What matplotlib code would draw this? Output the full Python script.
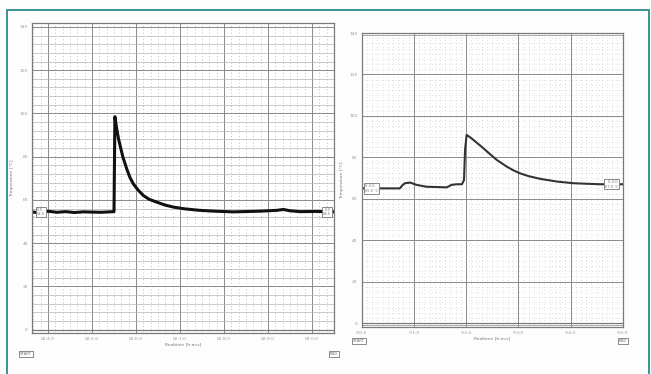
import numpy as np
import matplotlib
matplotlib.use("Agg")
from matplotlib import pyplot as plt
from matplotlib.patches import Rectangle

# left recording: minutes after first tick, temperature
left_t = [-3.6, -2.0, 0.0, 2.0, 4.0, 6.0, 8.0, 10.0, 12.0, 14.0, 15.0, 15.2,
          15.6, 16.0, 16.4, 17.0, 17.9, 18.6, 19.4, 20.5, 21.7, 23.0, 24.7,
          26.5, 28.5, 31.0, 34.5, 38.0, 42.1, 48.0, 52.0, 53.5, 55.0, 57.3,
          61.0, 65.0]
left_v = [54.5, 54.0, 54.8, 54.3, 54.6, 54.2, 54.5, 54.4, 54.3, 54.5, 54.6, 98.5,
          93.0, 88.5, 85.0, 80.0, 74.3, 70.5, 67.4, 64.5, 62.0, 60.3, 59.0,
          57.7, 56.7, 55.9, 55.2, 54.8, 54.5, 54.8, 55.2, 55.6, 55.0, 54.6,
          54.7, 54.5]
left_ticks = [0, 10, 20, 30, 40, 50, 60]
left_labels = ["02:4:0", "02:5:0", "02:6:0", "02:7:0", "02:8:0", "02:9:0", "03:0:0"]

# right recording
right_t = [0.0, 4.8, 7.3, 7.8, 8.3, 9.3, 10.5, 12.4, 16.3, 17.2, 18.2, 19.2,
           19.6, 19.8, 20.1, 20.7, 21.4, 22.3, 23.3, 24.5, 25.9, 27.8, 29.0,
           30.3, 32.0, 34.2, 37.4, 40.5, 45.6, 50.0]
right_v = [65.0, 65.0, 65.0, 66.5, 67.5, 67.8, 66.7, 65.8, 65.5, 66.7, 67.0, 67.0,
           69.0, 83.6, 90.8, 89.8, 88.4, 86.5, 84.4, 81.7, 78.7, 75.5, 73.8,
           72.3, 70.9, 69.6, 68.3, 67.5, 67.0, 67.0]
right_ticks = [0, 10, 20, 30, 40, 50]
right_labels = ["9:0:0", "9:1:0", "9:2:0", "9:3:0", "9:4:0", "9:5:0"]

y_ticks = [0, 20, 40, 60, 80, 100, 120, 140]

W, H = 651, 374
fig = plt.figure(figsize=(W / 100, H / 100), dpi=100, facecolor="#fdfdfd")

# teal frame
fig.patches.append(Rectangle((7 / W, -0.05), 642 / W, 1.05 - 10 / H,
                             transform=fig.transFigure, fill=False,
                             edgecolor="#2a8a8c", linewidth=1.3))

tc = "#999999"
fs = 3.2


def grid_axes(ax, xt, minor_x, minor_y, xlabels):
    ax.set_facecolor("white")
    ax.set_xticks(xt)
    ax.set_xticklabels(xlabels)
    ax.set_yticks(y_ticks)
    ax.set_yticklabels([str(v) for v in y_ticks])
    ax.set_xticks(minor_x, minor=True)
    ax.set_yticks(minor_y, minor=True)
    ax.tick_params(which="both", length=0, labelsize=fs, colors=tc, pad=3)
    ax.grid(True, which="major", color="#8a8a8a", linewidth=0.7)
    for s in ax.spines.values():
        s.set_color("#7a7a7a")
        s.set_linewidth(0.9)
    ax.axhline(0, color="#7a7a7a", lw=0.9)


# left chart
ax1 = fig.add_axes([32 / W, 1 - 333 / H, 302 / W, 310 / H])
ax1.plot(left_t, left_v, color="#111111", lw=2.2, solid_joinstyle="round")
ax1.set_xlim(-3.64, 65.0)
ax1.set_ylim(-1.5, 141.8)
grid_axes(ax1, left_ticks, np.arange(-10 / 6 * 2, 65, 10 / 6), np.arange(0, 141, 4),
          left_labels)
ax1.grid(True, which="minor", axis="y", color="#b5b5b5", linewidth=0.5)
ax1.grid(True, which="minor", axis="x", color="#a8a8a8", linewidth=0.6,
         linestyle=(0, (1, 3)))
ax1.set_xlabel("Realtime [h:m:s]", fontsize=fs, color="#777777", labelpad=1)
ax1.set_ylabel("Temperature [°C]", fontsize=fs, color="#777777", labelpad=4)
box = dict(boxstyle="square,pad=0.25", fc="white", ec="#777777", lw=0.6)
ax1.text(-2.5, 54.5, "0:0\n54.5", fontsize=2.6, color="#777777", va="center",
         ha="left", bbox=box)
ax1.text(64.3, 54.5, "0:0\n54.5", fontsize=2.6, color="#777777", va="center",
         ha="right", bbox=box)
ax1.text(-0.02, -0.06, "START", transform=ax1.transAxes, fontsize=2.8,
         color="#777777", ha="center", va="top", bbox=box)
ax1.text(1.0, -0.06, "END", transform=ax1.transAxes, fontsize=2.8,
         color="#777777", ha="center", va="top", bbox=box)

# right chart
ax2 = fig.add_axes([361.7 / W, 1 - 327 / H, 261 / W, 294 / H])
ax2.plot(right_t, right_v, color="#333333", lw=1.5, solid_joinstyle="round")
ax2.set_xlim(0, 50)
ax2.set_ylim(-1.9, 140)
grid_axes(ax2, right_ticks, np.arange(0, 50, 1), np.arange(0, 141, 2.5),
          right_labels)
ax2.grid(True, which="minor", color="#a8a8a8", linewidth=0.6,
         linestyle=(0, (0.5, 3.5)))
ax2.axhline(139, color="#9a9a9a", lw=0.6)
ax2.axhline(-0.9, color="#9a9a9a", lw=0.6)
ax2.set_xlabel("Realtime [h:m:s]", fontsize=fs, color="#777777", labelpad=1)
ax2.set_ylabel("Temperature [°C]", fontsize=fs, color="#777777", labelpad=4)
ax2.text(0.6, 65, "0:0:0 \n65.0 °C", fontsize=2.6, color="#777777",
         va="center", ha="left", bbox=box)
ax2.text(49.2, 67, "0:0:0 \n67.0 °C", fontsize=2.6, color="#777777",
         va="center", ha="right", bbox=box)
ax2.text(-0.01, -0.04, "START", transform=ax2.transAxes, fontsize=2.8,
         color="#777777", ha="center", va="top", bbox=box)
ax2.text(1.0, -0.04, "END", transform=ax2.transAxes, fontsize=2.8,
         color="#777777", ha="center", va="top", bbox=box)

fig.savefig("out.png", dpi=100, facecolor=fig.get_facecolor())
